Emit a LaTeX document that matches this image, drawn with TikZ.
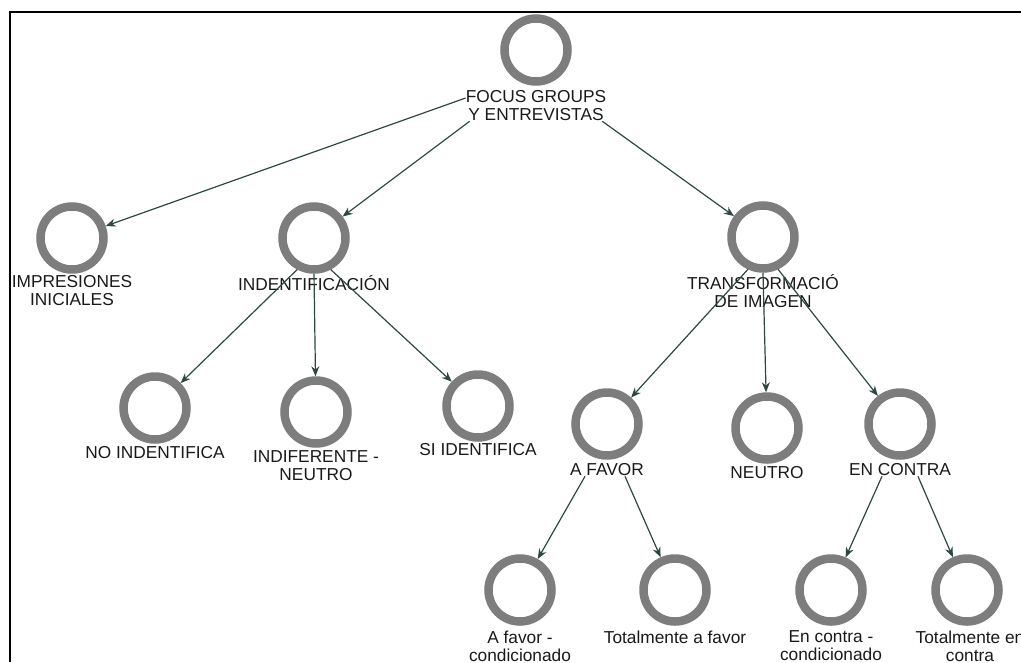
\documentclass[tikz,border=0pt]{standalone}
\usepackage{fontspec}
\setmainfont{Liberation Sans}
\usetikzlibrary{arrows.meta}
\definecolor{ringgray}{RGB}{125,125,125}
\definecolor{arrcol}{RGB}{45,72,68}
\tikzset{
  ring/.style={circle, draw=ringgray, line width=8.5pt, fill=white, minimum size=63pt, inner sep=0pt},
  lab/.style={align=center, font=\fontsize{17.3}{18}\selectfont, inner sep=0pt, text=black!90},
  arr/.style={draw=arrcol, line width=1.2pt, -{Stealth[length=10pt,width=8pt]}},
  frame/.style={draw=black, line width=2.4pt}
}
\begin{document}
\begin{tikzpicture}[x=1pt,y=-1pt]
\useasboundingbox (0,0) rectangle (1021,662);
\draw[frame] (10,662) -- (10,12) -- (1021,12);
% circles
\node[ring] (f) at (536,50) {};
\node[ring] (imp) at (72,238) {};
\node[ring] (id) at (314,238) {};
\node[ring] (tr) at (763,237) {};
\node[ring] (no) at (155,408) {};
\node[ring] (ind) at (316,412) {};
\node[ring] (si) at (478,406) {};
\node[ring] (af) at (607,424) {};
\node[ring] (ne) at (767,428) {};
\node[ring] (ec) at (900,424) {};
\node[ring] (afc) at (520,590) {};
\node[ring] (tf) at (675,590) {};
\node[ring] (ecc) at (831,590) {};
\node[ring] (tec) at (967,590) {};
% labels
\node[lab] (fl) at (536,106) {FOCUS GROUPS\\Y ENTREVISTAS};
\node[lab] (impl) at (72,291) {IMPRESIONES\\INICIALES};
\node[lab] (idl) at (314,283) {INDENTIFICACIÓN};
\node[lab] (trl) at (763,291) {TRANSFORMACIÓ\\DE IMAGEN};
\node[lab] (nol) at (155,453) {NO INDENTIFICA};
\node[lab] (indl) at (316,466) {INDIFERENTE -\\NEUTRO};
\node[lab] (sil) at (478,450) {SI IDENTIFICA};
\node[lab] (afl) at (607,470) {A FAVOR};
\node[lab] (nel) at (767,473) {NEUTRO};
\node[lab] (ecl) at (900,470) {EN CONTRA};
\node[lab] (afcl) at (520,646) {A favor -\\condicionado};
\node[lab] (tfl) at (675,637) {Totalmente a favor};
\node[lab] (eccl) at (831,646) {En contra -\\condicionado};
\node[lab] (tecl) at (970,646) {Totalmente en\\contra};
% connectors
\draw[arr] ([yshift=8pt]fl.west) -- (imp);
\draw[arr] ([xshift=4pt]fl.south west) -- (id);
\draw[arr] ([xshift=-4pt]fl.south east) -- (tr);
\draw[arr] (id.-118) -- (no);
\draw[arr] (id.south) -- (ind);
\draw[arr] (id.-62) -- (si);
\draw[arr] (tr.-115) -- (af);
\draw[arr] (tr.south) -- (ne);
\draw[arr] (tr.-65) -- (ec);
\draw[arr] ([xshift=-22pt]afl.south) -- (afc);
\draw[arr] ([xshift=18pt]afl.south) -- (tf);
\draw[arr] ([xshift=-18pt]ecl.south) -- (ecc);
\draw[arr] ([xshift=18pt]ecl.south) -- (tec);
\end{tikzpicture}
\end{document}
